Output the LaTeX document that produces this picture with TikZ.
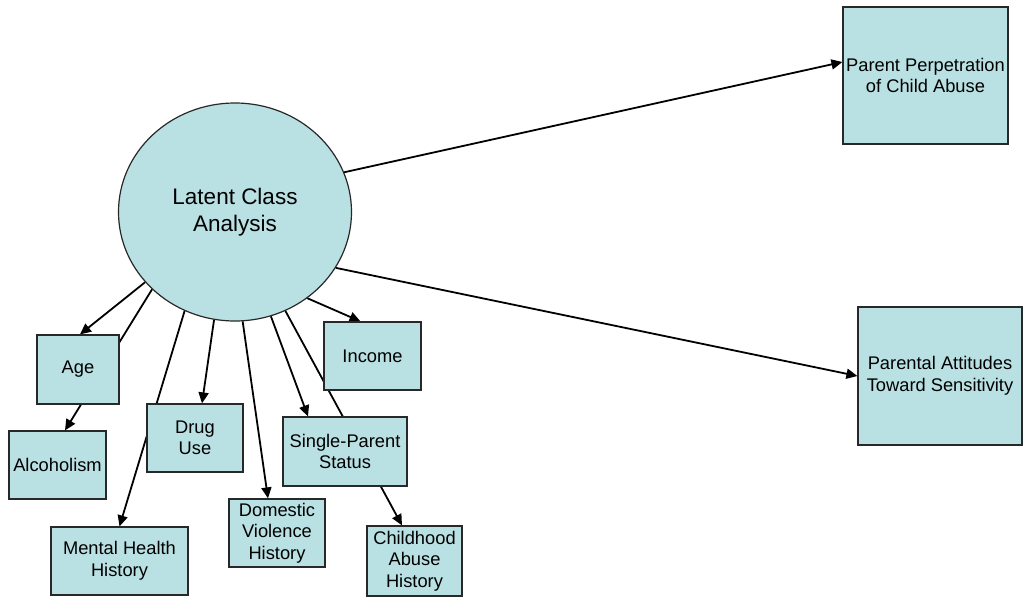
\documentclass[tikz,border=0pt]{standalone}
\usepackage{fontspec}
\setmainfont{Liberation Sans}
\usetikzlibrary{shapes.geometric,arrows.meta,calc}
\pgfdeclarelayer{bottom}
\pgfdeclarelayer{background}
\pgfsetlayers{bottom,background,main}
\definecolor{boxfill}{RGB}{185,224,227}
\definecolor{boxline}{RGB}{40,40,40}
\tikzset{
  varbox/.style={draw=boxline, line width=1.2pt, fill=boxfill, rectangle, inner sep=0pt,
    align=center, font=\fontsize{18.3}{21.5}\selectfont},
  latent/.style={draw=boxline, line width=1.2pt, fill=boxfill, ellipse, inner sep=0pt,
    minimum width=233pt, minimum height=218pt, align=center, font=\fontsize{22.5}{27}\selectfont},
  link/.style={line width=1.8pt, draw=black, -{Triangle[length=11pt,width=10pt]}}
}
\begin{document}
\begin{tikzpicture}[x=1pt,y=-1pt]
\useasboundingbox (0,0) rectangle (1023,598);
\begin{pgfonlayer}{bottom}
\fill[white] (0,0) rectangle (1023,598);
\end{pgfonlayer}
\node[latent] (lca) at (235,212) {Latent Class\\Analysis};
\node[varbox, minimum width=165pt, minimum height=137pt] (pp) at (925.5,75.5) {Parent Perpetration\\of Child Abuse};
\node[varbox, minimum width=164pt, minimum height=138pt] (pa) at (940,376) {Parental Attitudes\\Toward Sensitivity};
\node[varbox, minimum width=82pt, minimum height=69pt] (age) at (78,369.5) {Age};
\node[varbox, minimum width=97pt, minimum height=68pt] (alc) at (57.5,465) {Alcoholism};
\node[varbox, minimum width=96pt, minimum height=68pt] (drug) at (195,438) {Drug\\Use};
\node[varbox, minimum width=137pt, minimum height=68pt] (mh) at (119.5,561) {Mental Health\\History};
\node[varbox, minimum width=96pt, minimum height=68pt] (dv) at (277,533) {Domestic\\Violence\\History};
\node[varbox, minimum width=97pt, minimum height=68pt] (inc) at (372.5,356) {Income};
\node[varbox, minimum width=124pt, minimum height=69pt] (sp) at (345,451.5) {Single-Parent\\Status};
\node[varbox, minimum width=95pt, minimum height=70pt] (cah) at (414.5,561) {Childhood\\Abuse\\History};
\begin{pgfonlayer}{background}
\draw[link] (lca.218.6) -- ($(age.north)+(2,0)$);
\draw[link] (lca.223.9) -- ($(alc.north)+(7.5,0)$);
\draw[link] (lca.243.7) -- (mh.north);
\draw[link] (lca.259.6) -- ($(drug.north)+(7,0)$);
\draw[link] (lca.274.2) -- ($(dv.north)+(-9,0)$);
\draw[link] (lca.289.9) -- ($(sp.north)+(-37,0)$);
\draw[link] (lca.297.3) -- ($(cah.north)+(-12.5,0)$);
\draw[link] (lca.310.3) -- ($(inc.north)+(-12,0)$);
\draw[link] (lca.20.9) -- ($(pp.west)+(0,-13.5)$);
\draw[link] (lca.331.7) -- (pa.west);
\end{pgfonlayer}
\end{tikzpicture}
\end{document}
